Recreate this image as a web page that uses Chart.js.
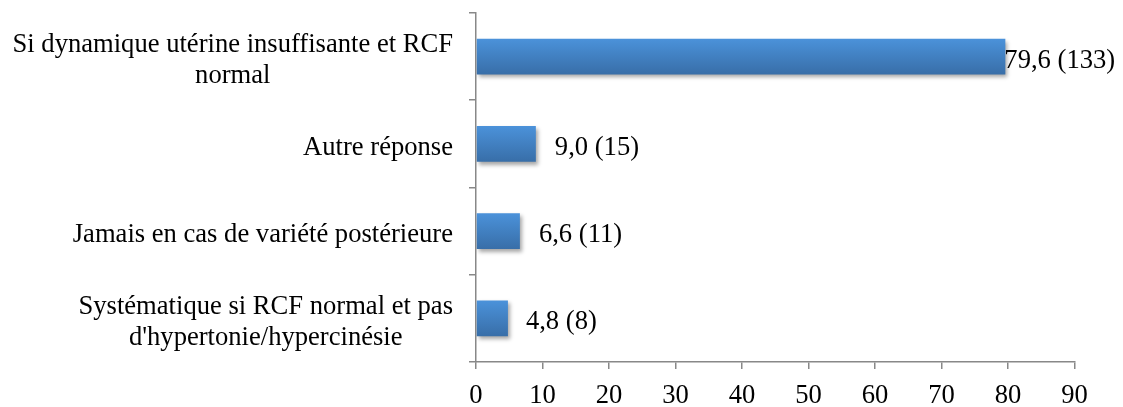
<!DOCTYPE html>
<html>
<head>
<meta charset="utf-8">
<script src="https://cdn.jsdelivr.net/npm/chart.js@4/dist/chart.umd.min.js"></script>
<style>
html,body{margin:0;padding:0;background:#fff;}
#wrap{width:1123px;height:407px;}
</style>
</head>
<body>
<div id="wrap"><canvas id="c" width="1123" height="407"></canvas></div>
<script>
const categories = [
  ["Si dynamique utérine insuffisante et RCF", "normal"],
  ["Autre réponse"],
  ["Jamais en cas de variété postérieure"],
  ["Systématique si RCF normal et pas", "d'hypertonie/hypercinésie"]
];
const percentages = [79.6, 9.0, 6.6, 4.8];
const counts = [133, 15, 11, 8];
const xTicks = [0, 10, 20, 30, 40, 50, 60, 70, 80, 90];

const FONT = "'Liberation Serif', 'Times New Roman', serif";
const FSIZE = 26.6;
const BAR_PCT = 0.41;
const labelGaps = [-1, 19, 19, 18];

function fmt(v){ return v.toFixed(1).replace('.', ','); }

const shadowPlugin = {
  id: 'shadow',
  beforeDatasetsDraw(chart){
    const c = chart.ctx; c.save();
    c.shadowColor = 'rgba(0,0,0,0.35)';
    c.shadowBlur = 4; c.shadowOffsetX = 2; c.shadowOffsetY = 3;
  },
  afterDatasetsDraw(chart){
    chart.ctx.restore();
  }
};

const labelsPlugin = {
  id: 'labels',
  afterDraw(chart){
    const c = chart.ctx;
    const y = chart.scales.y, x = chart.scales.x;
    c.save();
    c.fillStyle = '#000';
    c.font = FSIZE + 'px ' + FONT;
    c.textBaseline = 'alphabetic';
    const lh = 31.6;
    const base = 11;
    categories.forEach((lines, i) => {
      const cy = y.getPixelForValue(i);
      const right = chart.chartArea.left - 23;
      const widths = lines.map(l => c.measureText(l).width);
      const maxW = Math.max(...widths);
      const center = right - maxW / 2;
      c.textAlign = 'center';
      lines.forEach((l, j) => {
        c.fillText(l, center, cy + base + (j - (lines.length - 1) / 2) * lh);
      });
    });
    c.textAlign = 'left';
    percentages.forEach((v, i) => {
      const px = x.getPixelForValue(v) + labelGaps[i];
      const cy = y.getPixelForValue(i);
      c.fillText(fmt(v) + ' (' + counts[i] + ')', px, cy + base);
    });
    c.restore();
  }
};

new Chart(document.getElementById('c'), {
  type: 'bar',
  data: {
    labels: categories,
    datasets: [{
      data: percentages,
      barPercentage: BAR_PCT,
      categoryPercentage: 1,
      borderWidth: 0,
      backgroundColor: (ctx) => {
        const chart = ctx.chart;
        if (!chart.chartArea || !chart.scales.y) return '#4488cc';
        const ys = chart.scales.y;
        const cy = ys.getPixelForValue(ctx.dataIndex);
        const band = (chart.chartArea.bottom - chart.chartArea.top) / categories.length;
        const h = band * BAR_PCT / 2;
        const g = chart.ctx.createLinearGradient(0, cy - h, 0, cy + h);
        g.addColorStop(0, '#4b92da');
        g.addColorStop(1, '#386ea8');
        return g;
      }
    }]
  },
  options: {
    indexAxis: 'y',
    responsive: false,
    animation: false,
    devicePixelRatio: 1,
    layout: { padding: { left: 469, top: 13, right: 48.5, bottom: -16 } },
    plugins: { legend: { display: false }, tooltip: { enabled: false } },
    scales: {
      x: {
        min: 0, max: 90,
        afterBuildTicks: (s) => { s.ticks = xTicks.map(v => ({ value: v })); },
        grid: { drawOnChartArea: false, drawTicks: true, tickLength: 7, color: '#888', lineWidth: 1.5 },
        border: { color: '#888', width: 1.5 },
        ticks: { color: '#000', font: { family: FONT, size: FSIZE, lineHeight: 0.8 }, padding: 16.4 }
      },
      y: {
        grid: { drawOnChartArea: false, drawTicks: true, tickLength: 7, color: '#888', lineWidth: 1.5, offset: true },
        border: { color: '#888', width: 1.5 },
        ticks: { display: false }
      }
    }
  },
  plugins: [shadowPlugin, labelsPlugin]
});
</script>
</body>
</html>
